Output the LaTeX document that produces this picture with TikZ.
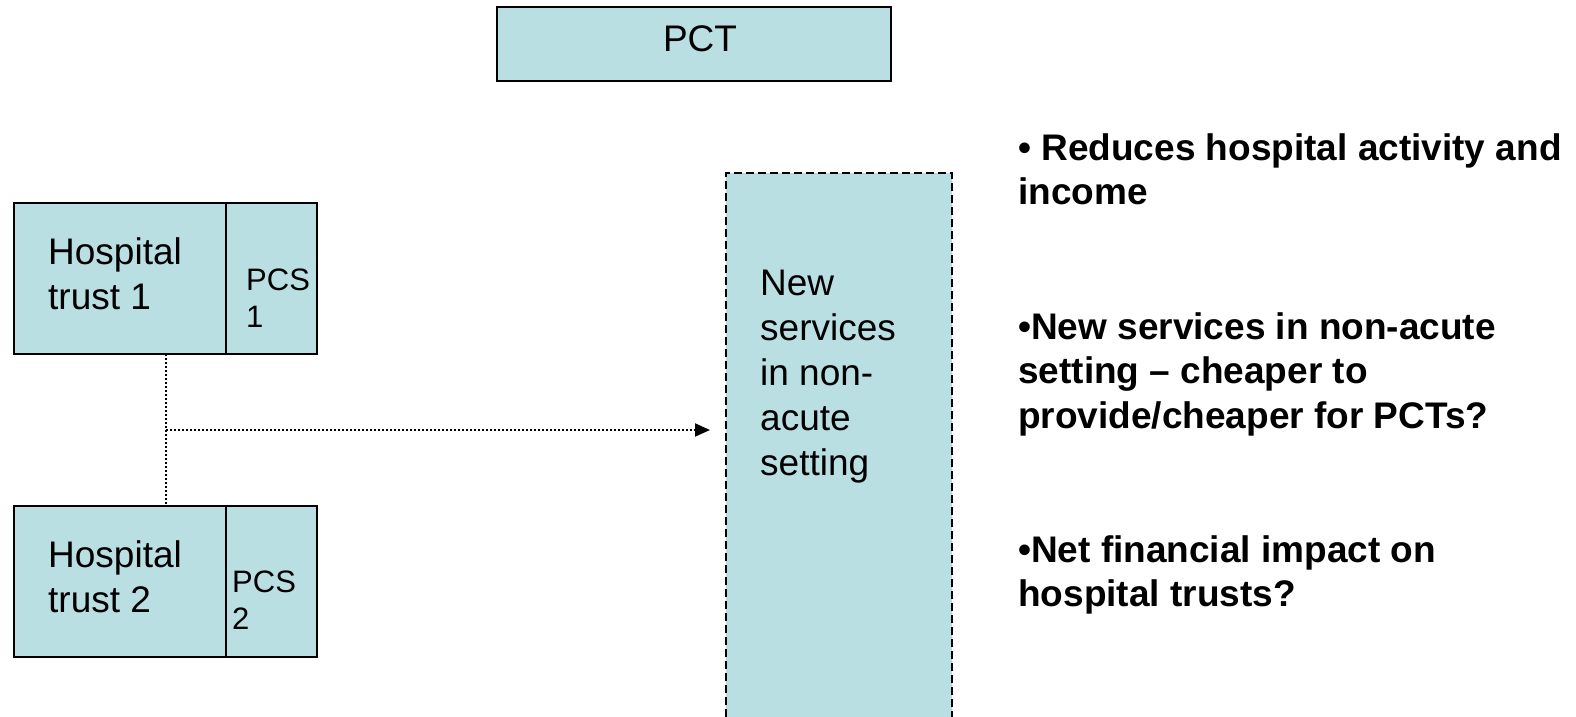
\documentclass[tikz,border=0pt]{standalone}
\usepackage{fontspec}
\setmainfont{Liberation Sans}
\usetikzlibrary{arrows.meta,calc}
\definecolor{boxfill}{RGB}{186,223,227}
\begin{document}
\begin{tikzpicture}[x=1pt,y=-1pt,
  box/.style={draw=black, line width=1.5pt, fill=boxfill, inner sep=0pt, outer sep=0pt, anchor=north west},
  dashbox/.style={box, dash pattern=on 8pt off 4pt},
  label/.style={inner sep=0pt, anchor=base west, align=left},
  big/.style={font=\fontsize{37}{45}\selectfont},
  small/.style={font=\fontsize{31}{37}\selectfont},
  point/.style={font=\bfseries\fontsize{37}{44.5}\selectfont},
  link/.style={line width=2pt, dash pattern=on 2pt off 2pt}]
\useasboundingbox (0,0) rectangle (1576,716);

% commissioning body
\node[box, minimum width=394pt, minimum height=74pt] (pct) at (497,7) {};
\node[inner sep=0pt, anchor=base, big] (pcttext) at (700,51) {PCT};

% hospital trusts, each with its PCS part on the right
\node[box, minimum width=303pt, minimum height=151pt] (h1) at (14,203) {};
\node[box, minimum width=91pt, minimum height=151pt] (p1) at (226,203) {};
\node[label, big] (h1text) at (48,309) {Hospital\\trust 1};
\node[label, small] (p1text) at (246,327) {PCS\\1};

\node[box, minimum width=303pt, minimum height=151pt] (h2) at (14,506) {};
\node[box, minimum width=91pt, minimum height=151pt] (p2) at (226,506) {};
\node[label, big] (h2text) at (48,612) {Hospital\\trust 2};
\node[label, small] (p2text) at (232,629) {PCS\\2};

% new service block, running off the bottom edge
\node[dashbox, minimum width=226pt, minimum height=560pt] (new) at (726,173) {};
\node[label, big] (newtext) at (760,475) {New\\services\\in non-\\acute\\setting};

% connectors
\draw[link] (h1.south) -- (h2.north);
\coordinate (junction) at ($(h1.south)!0.5!(h2.north)$);
\coordinate (tip) at ($(new.west |- junction)+(-16,0)$);
\draw[link, -{Triangle[length=15pt,width=13pt]}] (junction) -- (tip);

% key points
\node[label, point] (pt1) at (1018,204.5) {• Reduces hospital activity and\\income};
\node[label, point] (pt2) at (1018,428) {•New services in non-acute\\setting – cheaper to\\provide/cheaper for PCTs?};
\node[label, point] (pt3) at (1018,606.5) {•Net financial impact on\\hospital trusts?};
\end{tikzpicture}
\end{document}
